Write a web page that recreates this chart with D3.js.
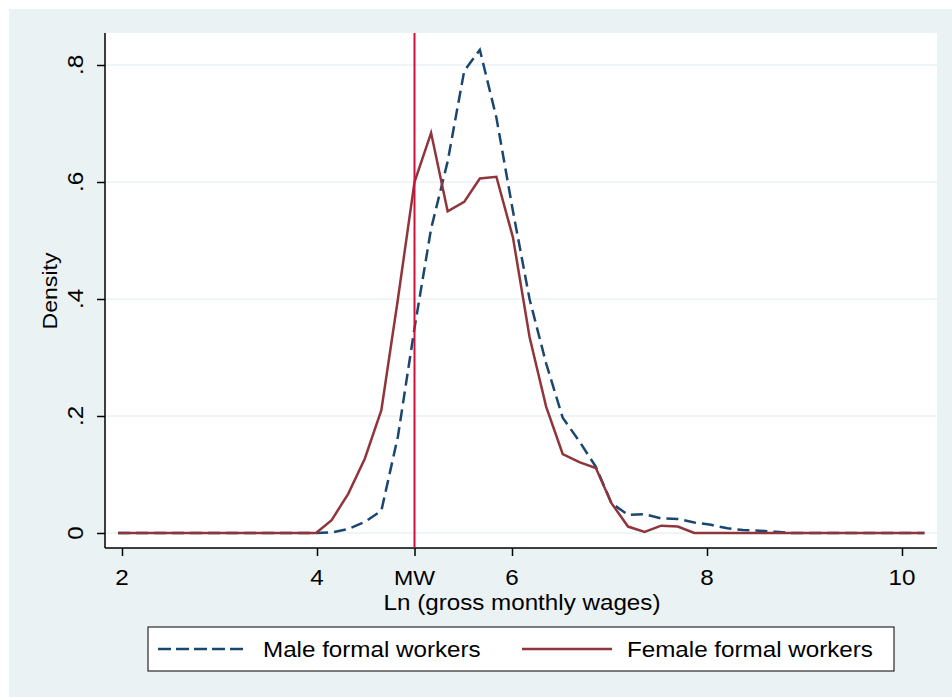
<!DOCTYPE html>
<html>
<head>
<meta charset="utf-8">
<script src="https://cdn.jsdelivr.net/npm/d3@7"></script>
<style>
  body { margin: 0; background: #fff; }
  svg { display: block; font-family: "Liberation Sans", Arial, sans-serif; }
</style>
</head>
<body>
<svg id="chart" width="952" height="697"></svg>
<script>
// evaluation points of the kernel density (ln wages)
var xs = [1.96, 2.13, 2.30, 2.47, 2.64, 2.80, 2.97, 3.14, 3.31, 3.48,
          3.65, 3.82, 3.99, 4.15, 4.32, 4.49, 4.66, 4.83, 5.00, 5.17,
          5.34, 5.51, 5.67, 5.84, 6.01, 6.18, 6.35, 6.52, 6.69, 6.86,
          7.02, 7.19, 7.36, 7.53, 7.70, 7.87, 8.04, 8.21, 8.37, 8.54,
          8.71, 8.88, 9.05, 9.22, 9.39, 9.56, 9.72, 9.89, 10.06, 10.23];

var male = [0, 0, 0, 0, 0, 0, 0, 0, 0, 0,
            0, 0, 0, 0.001, 0.007, 0.019, 0.038, 0.165, 0.35, 0.52,
            0.635, 0.79, 0.826, 0.71, 0.55, 0.40, 0.29, 0.197, 0.157, 0.113,
            0.051, 0.031, 0.032, 0.025, 0.024, 0.018, 0.014, 0.008, 0.005, 0.004,
            0.002, 0, 0, 0, 0, 0, 0, 0, 0, 0];

var female = [0, 0, 0, 0, 0, 0, 0, 0, 0, 0,
              0, 0, 0, 0.022, 0.067, 0.127, 0.21, 0.40, 0.60, 0.684,
              0.55, 0.566, 0.606, 0.609, 0.505, 0.335, 0.216, 0.135, 0.121, 0.111,
              0.051, 0.011, 0.002, 0.0125, 0.011, 0, 0, 0, 0, 0,
              0, 0, 0, 0, 0, 0, 0, 0, 0, 0];

var minWage = 5.0;
var xTicks = [2, 4, 6, 8, 10];
var yTicks = [0, 0.2, 0.4, 0.6, 0.8];
var yTickLabels = ["0", ".2", ".4", ".6", ".8"];

var svg = d3.select("#chart");

// outer graph region
svg.append("rect")
  .attr("x", 9).attr("y", 9)
  .attr("width", 943).attr("height", 688)
  .attr("fill", "#eaf2f3");

var plot = { left: 105, right: 937, top: 33, bottom: 548 };

svg.append("rect")
  .attr("x", plot.left).attr("y", plot.top)
  .attr("width", plot.right - plot.left).attr("height", plot.bottom - plot.top)
  .attr("fill", "#fff");

var x = d3.scaleLinear().domain([2, 10]).range([122, 902]);
var y = d3.scaleLinear().domain([0, 0.8]).range([533, 65]);

// text is a bit wide in the original export
var sx = 1.1;
function label(g, tx, ty, rot, size, anchor, txt) {
  return g.append("text")
    .attr("transform", "translate(" + tx + "," + ty + ")" + (rot ? " rotate(" + rot + ")" : "") + " scale(" + sx + ",1)")
    .attr("text-anchor", anchor)
    .attr("font-size", size)
    .attr("fill", "#000")
    .text(txt);
}

// grid
svg.append("g")
  .selectAll("line")
  .data(yTicks)
  .enter()
  .append("line")
  .attr("x1", plot.left).attr("x2", plot.right)
  .attr("y1", function(d) { return y(d); })
  .attr("y2", function(d) { return y(d); })
  .attr("stroke", "#eaf2f3")
  .attr("stroke-width", 1.5);

// axes (ticks + lines only, labels added below)
var xAxis = svg.append("g")
  .attr("transform", "translate(0," + plot.bottom + ")")
  .call(d3.axisBottom(x).tickValues(xTicks.concat([minWage])).tickSize(8).tickFormat("").tickSizeOuter(0));
xAxis.select(".domain").attr("d", "M" + plot.left + ",0H" + plot.right);

var yAxis = svg.append("g")
  .attr("transform", "translate(" + plot.left + ",0)")
  .call(d3.axisLeft(y).tickValues(yTicks).tickSize(8).tickFormat("").tickSizeOuter(0));
yAxis.select(".domain").attr("d", "M0," + plot.top + "V" + plot.bottom);

svg.selectAll(".domain, .tick line")
  .attr("stroke", "#000")
  .attr("stroke-width", 1.5);

var tickLabels = svg.append("g");
xTicks.forEach(function(v) {
  label(tickLabels, x(v), 585, 0, 22, "middle", v);
});
label(tickLabels, x(minWage), 585, 0, 21, "middle", "MW");
yTicks.forEach(function(v, i) {
  label(tickLabels, 83, y(v), -90, 22, "middle", yTickLabels[i]);
});

// axis titles
label(svg, 522, 610, 0, 22, "middle", "Ln (gross monthly wages)");
label(svg, 57, 291, -90, 21, "middle", "Density");

// density lines
var line = d3.line()
  .x(function(d) { return x(d[0]); })
  .y(function(d) { return y(d[1]); });

svg.append("path")
  .datum(d3.zip(xs, male))
  .attr("d", line)
  .attr("fill", "none")
  .attr("stroke", "#1a476f")
  .attr("stroke-width", 2.5)
  .attr("stroke-dasharray", "12,6");

svg.append("path")
  .datum(d3.zip(xs, female))
  .attr("d", line)
  .attr("fill", "none")
  .attr("stroke", "#90353b")
  .attr("stroke-width", 2.5);

// minimum wage line
svg.append("line")
  .attr("x1", x(minWage)).attr("x2", x(minWage))
  .attr("y1", plot.top).attr("y2", plot.bottom)
  .attr("stroke", "#d0103a")
  .attr("stroke-width", 2);

// legend
var legend = svg.append("g");
legend.append("rect")
  .attr("x", 148).attr("y", 627)
  .attr("width", 746).attr("height", 44)
  .attr("fill", "#fff")
  .attr("stroke", "#000")
  .attr("stroke-width", 1);

var items = [
  { label: "Male formal workers", color: "#1a476f", dash: "13,5", x0: 158 },
  { label: "Female formal workers", color: "#90353b", dash: null, x0: 522 }
];

items.forEach(function(d) {
  legend.append("line")
    .attr("x1", d.x0).attr("x2", d.x0 + 90)
    .attr("y1", 649).attr("y2", 649)
    .attr("stroke", d.color)
    .attr("stroke-width", 2.5)
    .attr("stroke-dasharray", d.dash);
  label(legend, d.x0 + 105, 657, 0, 22, "start", d.label);
});
</script>
</body>
</html>
